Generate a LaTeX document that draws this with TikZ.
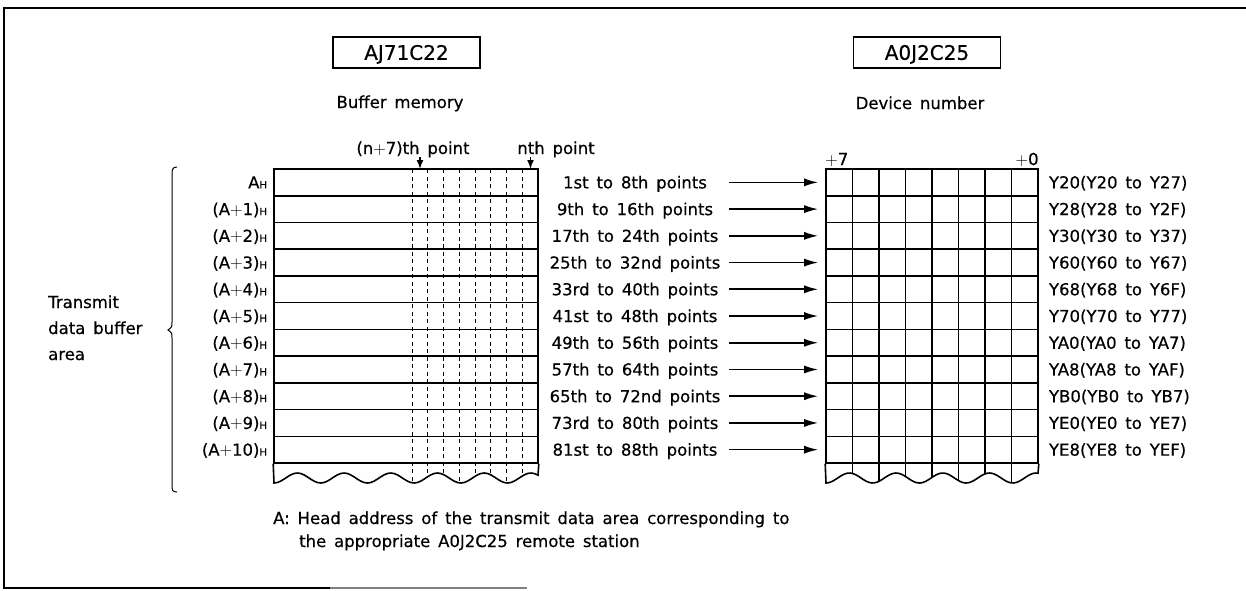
\documentclass[tikz,border=0pt]{standalone}
\usepackage{fontspec}
\setmainfont{DejaVu Sans}[WordSpace=1.5,FakeBold=0.5]
\usetikzlibrary{arrows.meta,calc}
\newcommand{\hsub}{{\fontsize{10}{10}\selectfont H}}

\begin{document}
\begin{tikzpicture}[x=1pt,y=-1pt,>=Latex,line join=miter,
  every node/.style={font=\fontsize{16.5}{19}\selectfont,inner sep=0pt,text height=12pt,text depth=0pt},
  memrow/.style={draw,line width=1.6pt,minimum width=264pt,minimum height=26.73pt},
  devrow/.style={draw,line width=1.6pt,minimum width=212pt,minimum height=26.73pt},
  feed/.style={line width=1.6pt,-{Latex[length=14pt,width=8pt]}},
  bitmark/.style={line width=1.6pt,-{Latex[length=9pt,width=7pt]}},
  bitline/.style={line width=1pt,dash pattern=on 4pt off 3.5pt},
  title/.style={draw,line width=1.4pt,minimum width=147pt,minimum height=31pt,font=\fontsize{20}{24}\selectfont,text height=14.6pt}]
\useasboundingbox (0,0) rectangle (1246,590);
% frame
\draw[line width=2.4pt] (1246,8) -- (4,8) -- (4,588) -- (330,588);
\draw[line width=1.4pt,black!50] (330,588) -- (527,588);
% headings
\node[title] (cpu) at (406.5,52.5) {AJ71C22};
\node[title] (rem) at (927,52.5) {A0J2C25};
\node (buf) at (400,102) {Buffer memory};
\node (devno) at (920,103) {Device number};
\node (n7lbl) at (413,148) {(n$+$7)th point};
\node (n0lbl) at (556,148) {nth point};
% rows
\foreach \adr/\pts/\dev [count=\i from 0] in {
  {A}/{1st to 8th points}/{Y20(Y20 to Y27)},
  {(A$+$1)}/{9th to 16th points}/{Y28(Y28 to Y2F)},
  {(A$+$2)}/{17th to 24th points}/{Y30(Y30 to Y37)},
  {(A$+$3)}/{25th to 32nd points}/{Y60(Y60 to Y67)},
  {(A$+$4)}/{33rd to 40th points}/{Y68(Y68 to Y6F)},
  {(A$+$5)}/{41st to 48th points}/{Y70(Y70 to Y77)},
  {(A$+$6)}/{49th to 56th points}/{YA0(YA0 to YA7)},
  {(A$+$7)}/{57th to 64th points}/{YA8(YA8 to YAF)},
  {(A$+$8)}/{65th to 72nd points}/{YB0(YB0 to YB7)},
  {(A$+$9)}/{73rd to 80th points}/{YE0(YE0 to YE7)},
  {(A$+$10)}/{81st to 88th points}/{YE8(YE8 to YEF)}}{
  \node[memrow] (m\i) at (406,182.37+\i*26.73) {};
  \node[devrow] (d\i) at (932,182.37+\i*26.73) {};
  \node[anchor=east] (a\i) at ([xshift=-6pt]m\i.west) {\adr\hsub};
  \node (p\i) at (635,182.37+\i*26.73) {\pts};
  \node[anchor=west] (y\i) at ([xshift=10pt]d\i.east) {\dev};
  \coordinate (s\i) at (729,182.37+\i*26.73);
  \draw[feed] (s\i) -- ([xshift=-7pt]d\i.west);
}
% wavy cut-off ends
\draw[line width=1.6pt] (m10.south west) -- plot[domain=274:538,samples=80] (\x,{478+5*cos((\x-274)/46.7*360)}) -- (m10.south east);
\draw[line width=1.6pt] (d10.south west) -- plot[domain=826:1038,samples=80] (\x,{478+5*cos((\x-826)/46.7*360)}) -- (d10.south east);
\begin{scope}
\clip (274,169) -- plot[domain=274:538,samples=80] (\x,{478+5*cos((\x-274)/46.7*360)}) -- (538,169) -- cycle;
\foreach \k in {0,...,7}{\draw[bitline] (412+\k*15.75,169) -- ++(0,330);}
\end{scope}
\begin{scope}
\clip (826,169) -- plot[domain=826:1038,samples=80] (\x,{478+5*cos((\x-826)/46.7*360)}) -- (1038,169) -- cycle;
\foreach \k in {1,...,7}{\draw[line width=1.6pt] (826+\k*26.5,169) -- ++(0,330);}
\end{scope}
% bit markers
\coordinate (b7) at (420,169);
\coordinate (b0) at (530.5,169);
\draw[bitmark] ([yshift=12pt]b7) -- (b7);
\draw[bitmark] ([yshift=12pt]b0) -- (b0);
\node[anchor=south west] (plus7) at ([yshift=3pt]d0.north west) {$+$7};
\node[anchor=south east] (plus0) at ([yshift=3pt]d0.north east) {$+$0};
% brace and area label
\draw[line width=1pt] (177,167) .. controls (172,167) and (172,170) .. (172,176) -- (172,322) .. controls (172,327) .. (168,330) .. controls (172,333) .. (172,338) -- (172,484) .. controls (172,490) and (172,492) .. (177,492);
\node[anchor=west] (tx1) at (48,302) {Transmit};
\node[anchor=west] (tx2) at (48,328) {data buffer};
\node[anchor=west] (tx3) at (48,354) {area};
% note
\node[anchor=base west] (note1) at (273,524) {A: Head address of the transmit data area corresponding to};
\node[anchor=base west] (note2) at (299,547) {the appropriate A0J2C25 remote station};
\end{tikzpicture}
\end{document}
